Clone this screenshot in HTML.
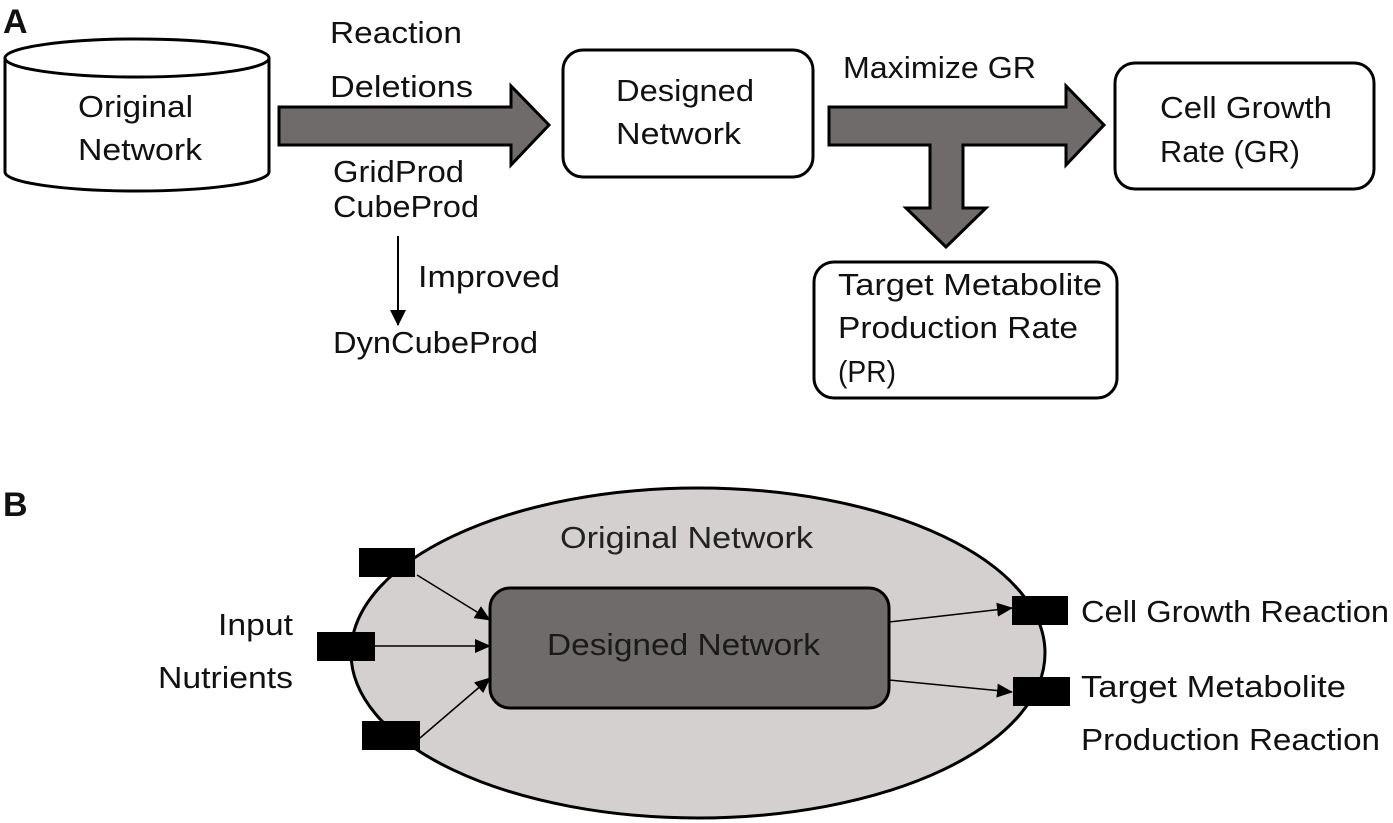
<!DOCTYPE html>
<html><head><meta charset="utf-8"><style>
html,body{margin:0;padding:0;background:#fff;}
svg{display:block;}
text{font-family:"Liberation Sans",sans-serif;font-size:31px;fill:#111;}
</style></head><body>
<svg width="1393" height="823" viewBox="0 0 1393 823" xmlns="http://www.w3.org/2000/svg">
<defs>
<marker id="ah" markerWidth="16" markerHeight="14" refX="15" refY="7" orient="auto" markerUnits="userSpaceOnUse">
<path d="M0,0 L16,7 L0,14 z" fill="#000"/></marker>
<marker id="ah2" markerWidth="16" markerHeight="16" refX="15" refY="8" orient="auto" markerUnits="userSpaceOnUse">
<path d="M0,0 L16,8 L0,16 z" fill="#000"/></marker>
</defs>
<g lengthAdjust="spacingAndGlyphs">
<text x="3" y="33" style="font-weight:bold;font-size:34px">A</text>
<text x="3" y="516" style="font-weight:bold;font-size:34px">B</text>

<!-- cylinder -->
<path d="M5,58 L5,172 A132,19 0 0 0 269,172 L269,58" fill="#fff" stroke="#000" stroke-width="3"/>
<ellipse cx="137" cy="58" rx="132" ry="19" fill="#fff" stroke="#000" stroke-width="3"/>
<text x="78" y="117" textLength="115" lengthAdjust="spacingAndGlyphs">Original</text>
<text x="78" y="160" textLength="124" lengthAdjust="spacingAndGlyphs">Network</text>

<!-- arrow 1 -->
<path d="M279,107 L511,107 L511,86 L549,125 L511,165 L511,145 L279,145 z" fill="#6f6b6a" stroke="#000" stroke-width="3"/>
<text x="330" y="43" textLength="132" lengthAdjust="spacingAndGlyphs">Reaction</text>
<text x="330" y="97" textLength="143" lengthAdjust="spacingAndGlyphs">Deletions</text>
<text x="333" y="182" textLength="131" lengthAdjust="spacingAndGlyphs">GridProd</text>
<text x="333" y="217" textLength="146" lengthAdjust="spacingAndGlyphs">CubeProd</text>
<line x1="398" y1="236" x2="398" y2="325" stroke="#000" stroke-width="2" marker-end="url(#ah2)"/>
<text x="418" y="287" textLength="142" lengthAdjust="spacingAndGlyphs">Improved</text>
<text x="333" y="353" textLength="205" lengthAdjust="spacingAndGlyphs">DynCubeProd</text>

<!-- designed network box -->
<rect x="563" y="50" width="250" height="127" rx="20" fill="#fff" stroke="#000" stroke-width="3"/>
<text x="616" y="101" textLength="138" lengthAdjust="spacingAndGlyphs">Designed</text>
<text x="616" y="144" textLength="125" lengthAdjust="spacingAndGlyphs">Network</text>

<!-- T arrow -->
<path d="M829,107 L1066,107 L1066,86 L1104,125 L1066,165 L1066,145 L963,145 L963,208 L986,208 L946,247 L906,208 L930,208 L930,145 L829,145 z" fill="#6f6b6a" stroke="#000" stroke-width="3"/>
<text x="843" y="78" textLength="193" lengthAdjust="spacingAndGlyphs">Maximize GR</text>

<rect x="1115" y="63" width="259" height="126" rx="20" fill="#fff" stroke="#000" stroke-width="3"/>
<text x="1160" y="118" textLength="172" lengthAdjust="spacingAndGlyphs">Cell Growth</text>
<text x="1160" y="162" textLength="140" lengthAdjust="spacingAndGlyphs">Rate (GR)</text>

<rect x="814" y="262" width="303" height="136" rx="20" fill="#fff" stroke="#000" stroke-width="3"/>
<text x="838" y="295" textLength="264" lengthAdjust="spacingAndGlyphs">Target Metabolite</text>
<text x="838" y="338" textLength="240" lengthAdjust="spacingAndGlyphs">Production Rate</text>
<text x="838" y="382" textLength="58" lengthAdjust="spacingAndGlyphs">(PR)</text>

<!-- Panel B -->
<ellipse cx="698" cy="653" rx="347" ry="165" fill="#d3d0cf" stroke="#000" stroke-width="3"/>
<text x="560" y="548" textLength="253" lengthAdjust="spacingAndGlyphs" style="fill:#222">Original Network</text>
<rect x="490" y="588" width="399" height="120" rx="20" fill="#6f6b6a" stroke="#000" stroke-width="3"/>
<text x="547" y="655" textLength="273" lengthAdjust="spacingAndGlyphs" style="fill:#1a1a1a">Designed Network</text>

<rect x="359" y="548" width="56" height="29" fill="#000"/>
<rect x="317" y="632" width="58" height="29" fill="#000"/>
<rect x="362" y="721" width="58" height="29" fill="#000"/>
<rect x="1012" y="596" width="56" height="29" fill="#000"/>
<rect x="1013" y="677" width="57" height="29" fill="#000"/>

<line x1="417" y1="575" x2="490" y2="620" stroke="#000" stroke-width="1.5" marker-end="url(#ah)"/>
<line x1="375" y1="646" x2="490" y2="646" stroke="#000" stroke-width="1.5" marker-end="url(#ah)"/>
<line x1="420" y1="738" x2="490" y2="678" stroke="#000" stroke-width="1.5" marker-end="url(#ah)"/>
<line x1="889" y1="622" x2="1012" y2="608" stroke="#000" stroke-width="1.5" marker-end="url(#ah)"/>
<line x1="889" y1="680" x2="1012" y2="692" stroke="#000" stroke-width="1.5" marker-end="url(#ah)"/>

<text x="218" y="635" textLength="75" lengthAdjust="spacingAndGlyphs">Input</text>
<text x="158" y="688" textLength="135" lengthAdjust="spacingAndGlyphs">Nutrients</text>
<text x="1081" y="622" textLength="308" lengthAdjust="spacingAndGlyphs">Cell Growth Reaction</text>
<text x="1081" y="697" textLength="265" lengthAdjust="spacingAndGlyphs">Target Metabolite</text>
<text x="1081" y="750" textLength="299" lengthAdjust="spacingAndGlyphs">Production Reaction</text>
</g>
</svg>
</body></html>
